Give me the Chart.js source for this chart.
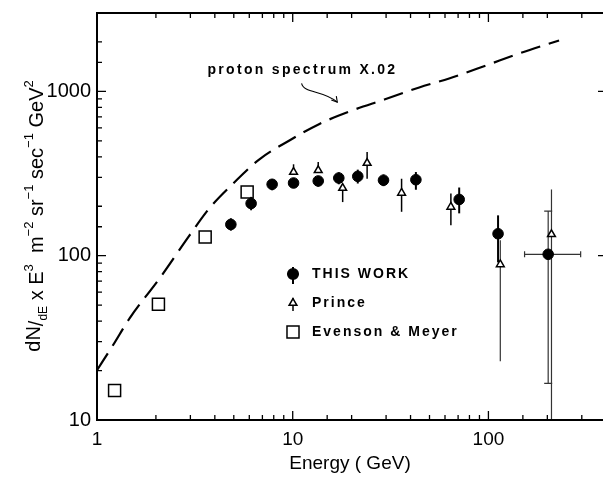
<!DOCTYPE html>
<html>
<head>
<meta charset="utf-8">
<script src="https://cdn.jsdelivr.net/npm/chart.js@4.4.1/dist/chart.umd.min.js"></script>
<style>
  html, body { margin: 0; padding: 0; background: #fff; }
  #wrap { width: 603px; height: 477px; }
</style>
</head>
<body>
<div id="wrap"><canvas id="chart" width="603" height="477"></canvas></div>
<script>
// THIS WORK (filled circles)
const workE   = [4.83, 6.13, 7.85, 10.1, 13.5, 17.2, 21.5, 29.1, 42.6, 70.9, 112, 202];
const workVal = [155, 208, 272, 277, 285, 297, 304, 288, 290, 220, 136, 102];
const workLo  = [142, 189, 250, 258, 263, 272, 275, 265, 252, 181, 91, 16.7];
const workHi  = [169, 228, 292, 297, 305, 322, 334, 312, 323, 260, 176, 187];
const workELo = [null, null, null, null, null, null, null, null, null, null, null, 153];
const workEHi = [null, null, null, null, null, null, null, null, null, null, null, 296];

// Prince (open triangles)
const princeE   = [10.1, 13.5, 18.0, 24.0, 36.0, 64.3, 115, 210];
const princeVal = [323, 331, 258, 366, 241, 198, 88.5, 135];
const princeLo  = [323, 331, 212, 294, 185, 153, 22.8, 9];
const princeHi  = [360, 372, 258, 428, 294, 239, 124, 253];

// Evenson & Meyer (open squares)
const evE   = [1.23, 2.06, 3.57, 5.85];
const evVal = [15.1, 50.7, 130, 244];

// proton spectrum x .02 (dashed curve)
const protonE   = [1, 1.2, 1.47, 2.09, 2.97, 3.76, 5.04, 6.76, 9.62, 13.7, 19.5, 29.4, 44.3, 63.0, 97.3, 143.5, 229.6];
const protonVal = [20.1, 28.2, 41.7, 72.9, 133, 195, 280, 386, 503, 634, 755, 893, 1057, 1199, 1439, 1702, 2042];

const xTickLabels = [1, 10, 100];
const yTickLabels = [10, 100, 1000];

const FONT = '"Liberation Sans", Arial, sans-serif';

const pts = (xs, ys) => xs.map((v, i) => ({ x: v, y: ys[i] }));
const isMajor = v => xTickLabels.concat(yTickLabels).includes(Math.round(v));

// axis frame with inward ticks
const frame = {
  id: 'frame',
  afterDraw(chart) {
    const { ctx, chartArea: a, scales: { x, y } } = chart;
    ctx.save();
    ctx.strokeStyle = '#000';
    ctx.lineWidth = 2;
    ctx.beginPath();
    ctx.moveTo(a.right + 2, a.top);
    ctx.lineTo(a.left, a.top);
    ctx.lineTo(a.left, a.bottom);
    ctx.lineTo(a.right + 2, a.bottom);
    ctx.stroke();
    ctx.lineWidth = 1.3;
    ctx.beginPath();
    x.ticks.forEach(t => {
      const px = x.getPixelForValue(t.value);
      if (px <= a.left + 1 || px >= a.right) return;
      const len = isMajor(t.value) ? 9 : 5;
      ctx.moveTo(px, a.bottom); ctx.lineTo(px, a.bottom - len);
      ctx.moveTo(px, a.top); ctx.lineTo(px, a.top + len);
    });
    y.ticks.forEach(t => {
      const py = y.getPixelForValue(t.value);
      if (py >= a.bottom - 1 || py <= a.top + 1) return;
      const major = isMajor(t.value);
      ctx.moveTo(a.left, py); ctx.lineTo(a.left + (major ? 9 : 5), py);
      // right axis sits just past the edge, only its long ticks show
      if (major) { ctx.moveTo(a.right, py); ctx.lineTo(a.right - 5, py); }
    });
    ctx.stroke();
    ctx.restore();
  }
};

// vertical / horizontal error bars from the lo/hi arrays
const errorBars = {
  id: 'errorBars',
  beforeDatasetsDraw(chart) {
    const { ctx, chartArea: a, scales: { x, y } } = chart;
    ctx.save();
    chart.data.datasets.forEach(ds => {
      if (!ds.errLo) return;
      ds.data.forEach((p, i) => {
        const px = x.getPixelForValue(p.x);
        const top = Math.max(a.top, y.getPixelForValue(ds.errHi[i]));
        const bot = Math.min(a.bottom, y.getPixelForValue(ds.errLo[i]));
        const long = bot - top > 70;
        ctx.lineWidth = long ? 1.2 : ds.errWidth;
        ctx.strokeStyle = long ? '#333' : '#000';
        ctx.beginPath();
        ctx.moveTo(px, top); ctx.lineTo(px, bot);
        if (ds.errXLo && ds.errXLo[i] != null) {
          const py = y.getPixelForValue(p.y);
          const l = x.getPixelForValue(ds.errXLo[i]);
          const r = x.getPixelForValue(ds.errXHi[i]);
          ctx.moveTo(l, py); ctx.lineTo(r, py);
          ctx.moveTo(l, py - 3); ctx.lineTo(l, py + 3);
          ctx.moveTo(r, py - 3); ctx.lineTo(r, py + 3);
          ctx.moveTo(px - 4, top); ctx.lineTo(px + 4, top);
          ctx.moveTo(px - 4, bot); ctx.lineTo(px + 4, bot);
        }
        ctx.stroke();
      });
    });
    ctx.restore();
  }
};

// y title, legend, annotation
const extras = {
  id: 'extras',
  afterDraw(chart) {
    const { ctx, scales: { x, y } } = chart;
    ctx.save();
    ctx.fillStyle = '#000';

    // rotated y title with super/subscripts
    const runs = [
      ['dN', 20, -3], ['/', 20, 0], ['dE', 12, 4], [' x E', 20, 0], ['3', 13, -10],
      ['  m', 20, 0], ['\u22122', 13, -10], [' sr', 20, 0], ['\u22121', 13, -10],
      [' sec', 20, 0], ['\u22121', 13, -10], [' GeV', 20, 0], ['2', 13, -10]
    ];
    let total = 0;
    runs.forEach(r => { ctx.font = r[1] + 'px ' + FONT; total += ctx.measureText(r[0]).width; });
    ctx.translate(30, 216);
    ctx.rotate(-Math.PI / 2);
    ctx.textBaseline = 'alphabetic';
    let u = -total / 2;
    runs.forEach(r => {
      ctx.font = r[1] + 'px ' + FONT;
      ctx.fillText(r[0], u, 13 + r[2]);
      u += ctx.measureText(r[0]).width;
    });
    ctx.setTransform(1, 0, 0, 1, 0, 0);

    // legend
    const lx = 293, ly = [274, 303, 332];
    const draw = Chart.helpers.drawPoint;
    ctx.strokeStyle = '#000';
    ctx.lineWidth = 2;
    ctx.beginPath(); ctx.moveTo(lx, ly[0] - 7); ctx.lineTo(lx, ly[0] + 10); ctx.stroke();
    ctx.lineWidth = 1.5;
    ctx.beginPath(); ctx.moveTo(lx, ly[1] - 5); ctx.lineTo(lx, ly[1] + 8); ctx.stroke();
    ctx.fillStyle = '#000';
    draw(ctx, { pointStyle: 'circle', radius: 5.3, borderWidth: 1 }, lx, ly[0]);
    ctx.fillStyle = '#fff';
    draw(ctx, { pointStyle: 'triangle', radius: 4.5, borderWidth: 1.5 }, lx, ly[1]);
    draw(ctx, { pointStyle: 'rect', radius: 8.5, borderWidth: 1.5 }, lx, ly[2]);

    ctx.fillStyle = '#000';
    ctx.font = 'bold 14px ' + FONT;
    ctx.textBaseline = 'middle';
    ctx.letterSpacing = '2px';
    ctx.fillText('THIS WORK', 312, ly[0]);
    ctx.fillText('Prince', 312, ly[1]);
    ctx.fillText('Evenson & Meyer', 312, ly[2]);

    // annotation and curved arrow
    ctx.letterSpacing = '2.3px';
    ctx.fillText('proton spectrum X.02', x.getPixelForValue(3.67), y.getPixelForValue(1343));
    ctx.letterSpacing = '0px';
    const sx = x.getPixelForValue(11.1), sy = y.getPixelForValue(1119);
    const ex = x.getPixelForValue(16.9), ey = y.getPixelForValue(861);
    ctx.lineWidth = 1.1;
    ctx.beginPath();
    ctx.moveTo(sx, sy);
    ctx.bezierCurveTo(sx + 2, sy + 10, ex - 14, ey - 12, ex, ey);
    ctx.stroke();
    ctx.beginPath();
    ctx.moveTo(ex - 6, ey - 2);
    ctx.lineTo(ex, ey);
    ctx.lineTo(ex - 1, ey - 6);
    ctx.stroke();
    ctx.restore();
  }
};

new Chart(document.getElementById('chart'), {
  type: 'scatter',
  data: {
    datasets: [
      {
        label: 'proton spectrum X.02',
        type: 'line',
        data: pts(protonE, protonVal),
        borderColor: '#000',
        borderWidth: 2.2,
        borderDash: [20, 9],
        pointRadius: 0,
        cubicInterpolationMode: 'monotone',
        fill: false
      },
      {
        label: 'THIS WORK',
        data: pts(workE, workVal),
        errLo: workLo, errHi: workHi, errXLo: workELo, errXHi: workEHi, errWidth: 2,
        pointStyle: 'circle',
        pointRadius: 5.3,
        backgroundColor: '#000',
        borderColor: '#000',
        borderWidth: 1
      },
      {
        label: 'Prince',
        data: pts(princeE, princeVal),
        errLo: princeLo, errHi: princeHi, errWidth: 1.5,
        pointStyle: 'triangle',
        pointRadius: 4.5,
        backgroundColor: '#fff',
        borderColor: '#000',
        borderWidth: 1.5
      },
      {
        label: 'Evenson & Meyer',
        data: pts(evE, evVal),
        pointStyle: 'rect',
        pointRadius: 8.5,
        backgroundColor: 'rgba(255,255,255,0)',
        borderColor: '#000',
        borderWidth: 1.5
      }
    ]
  },
  options: {
    responsive: false,
    animation: false,
    layout: { autoPadding: false, padding: { top: 13, right: 0, left: 0, bottom: 0 } },
    plugins: { legend: { display: false }, tooltip: { enabled: false } },
    scales: {
      x: {
        type: 'logarithmic',
        min: 1,
        max: 385,
        grid: { display: false, drawTicks: false },
        border: { display: false },
        ticks: {
          autoSkip: false, maxRotation: 0, padding: 8, color: '#000',
          font: { family: FONT, size: 19 },
          callback: v => xTickLabels.includes(v) ? String(v) : ''
        },
        title: {
          display: true, text: 'Energy ( GeV)', color: '#000',
          font: { family: FONT, size: 19 }, padding: { top: 0, bottom: 2 }
        },
        afterFit: s => { s.height = 57; s.paddingLeft = 0; s.paddingRight = 0; }
      },
      y: {
        type: 'logarithmic',
        min: 10,
        max: 3000,
        grid: { display: false, drawTicks: false },
        border: { display: false },
        ticks: {
          autoSkip: false, padding: 6, color: '#000',
          font: { family: FONT, size: 20 },
          callback: v => yTickLabels.includes(v) ? String(v) : ''
        },
        afterFit: s => { s.width = 97; s.paddingTop = 0; s.paddingBottom = 0; }
      }
    }
  },
  plugins: [frame, errorBars, extras]
});
</script>
</body>
</html>
